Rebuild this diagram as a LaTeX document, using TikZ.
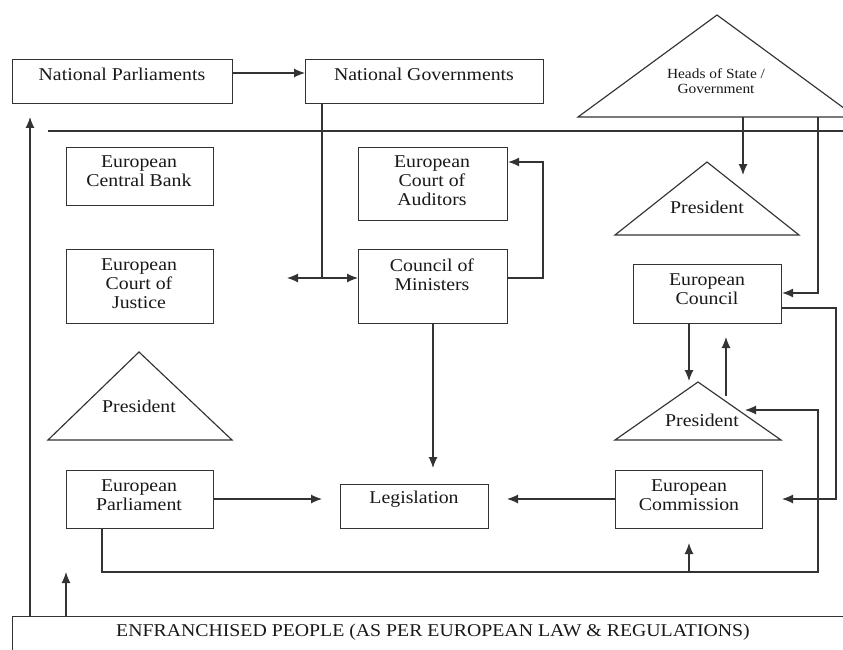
\documentclass[tikz,border=0pt]{standalone}
\usepackage{fontspec}
\setmainfont{Liberation Serif}[FakeStretch=1.1]
\usetikzlibrary{arrows.meta,calc}
\begin{document}
\begin{tikzpicture}[x=1pt,y=-1pt,
  line width=1.15pt,
  color=black!80,
  box/.style={draw=black!80, line width=1.15pt, rectangle, inner sep=0pt, anchor=north west},
  txt/.style={align=center, font=\fontsize{18}{19}\selectfont, inner sep=0pt, text=black!90},
  small/.style={align=center, font=\fontsize{14}{15}\selectfont, inner sep=0pt, text=black!90},
  arr/.style={-{Latex[length=11pt,width=9pt]}},
]
\useasboundingbox (0,0) rectangle (843,650);
\clip (0,0) rectangle (843,650);
\fill[white] (0,0) rectangle (843,650);

% boxes
\node[box, minimum width=220pt, minimum height=44pt] (np) at (12,59) {};
\node[box, minimum width=238pt, minimum height=44pt] (ng) at (305,59) {};
\node[box, minimum width=147pt, minimum height=58pt] (ecb) at (66,147) {};
\node[box, minimum width=147pt, minimum height=74pt] (ecj) at (66,249) {};
\node[box, minimum width=149pt, minimum height=73pt] (eca) at (358,147) {};
\node[box, minimum width=149pt, minimum height=74pt] (com) at (358,249) {};
\node[box, minimum width=148pt, minimum height=59pt] (ecl) at (633,264) {};
\node[box, minimum width=147pt, minimum height=58pt] (ep) at (66,470) {};
\node[box, minimum width=148pt, minimum height=44pt] (leg) at (340,484) {};
\node[box, minimum width=147pt, minimum height=58pt] (ecm) at (615,470) {};
\node[box, minimum width=860pt, minimum height=60pt] (ppl) at (12,616) {};

% texts
\node[txt] (tnp) at (122,74) {National Parliaments};
\node[txt] (tng) at (424,74) {National Governments};
\node[txt] (tecb) at (139,171) {European\\Central Bank};
\node[txt] (tecj) at (139,284) {European\\Court of\\Justice};
\node[txt] (teca) at (432,181) {European\\Court of\\Auditors};
\node[txt] (tcom) at (432,275) {Council of\\Ministers};
\node[txt] (tecl) at (707,289) {European\\Council};
\node[txt] (tep) at (139,495) {European\\Parliament};
\node[txt] (tleg) at (414,499) {Legislation};
\node[txt] (tecm) at (689,495) {European\\Commission};
\node[txt] (tppl) at (433,632) {ENFRANCHISED PEOPLE (AS PER EUROPEAN LAW \& REGULATIONS)};

% triangles
\coordinate (hA) at (717,15); \coordinate (hL) at (578,117); \coordinate (hR) at (856,117);
\draw (hL) -- (hA) -- (hR) -- cycle;
\node[small] (ths) at (716,81) {Heads of State /\\Government};

\coordinate (p1A) at (707,162); \coordinate (p1L) at (615,235); \coordinate (p1R) at (799,235);
\draw (p1L) -- (p1A) -- (p1R) -- cycle;
\node[txt] (tp1) at (707,207) {President};

\coordinate (p2A) at (698,382); \coordinate (p2L) at (615,440); \coordinate (p2R) at (781,440);
\draw (p2L) -- (p2A) -- (p2R) -- cycle;
\node[txt] (tp2) at (702,420) {President};

\coordinate (p3A) at (139,352); \coordinate (p3L) at (48,440); \coordinate (p3R) at (232,440);
\draw (p3L) -- (p3A) -- (p3R) -- cycle;
\node[txt] (tp3) at (139,406) {President};

% separator
\coordinate (s1) at (48,131); \coordinate (s2) at (843,131);
\draw (s1) -- (s2);

% connectors
\draw[arr] ($(np.north east)+(0,14)$) -- ($(ng.north west)+(0,14)$);

\coordinate (ngd) at ($(ng.south west)+(17,0)$);
\coordinate (j1) at (322,278);
\coordinate (ecjend) at (287,278);
\draw (ngd) -- (j1);
\draw[arr] (j1) -- (ecjend);
\draw[arr] (j1) -- (j1 -| com.west);

\coordinate (c1) at (543,278); \coordinate (c2) at (543,162);
\draw[arr] (j1 -| com.east) -- (c1) -- (c2) -- (c2 -| eca.east);

\coordinate (h1) at (743,117); \coordinate (h1e) at (743,175);
\draw[arr] (h1) -- (h1e);
\coordinate (h2) at (818,117); \coordinate (h2b) at (818,293);
\draw[arr] (h2) -- (h2b) -- (h2b -| ecl.east);

\coordinate (e1) at (781,308); \coordinate (e2) at (836,308); \coordinate (e3) at (836,499); \coordinate (e4) at (782,499);
\draw[arr] (e1) -- (e2) -- (e3) -- (e4);

\coordinate (d1) at (689,323); \coordinate (d2) at (689,381);
\draw[arr] (d1) -- (d2);
\coordinate (u1) at (726,396); \coordinate (u2) at (726,337);
\draw[arr] (u1) -- (u2);

\coordinate (b1) at (102,528); \coordinate (b2) at (102,572); \coordinate (b3) at (818,572); \coordinate (b4) at (818,410); \coordinate (b5) at (745,410);
\draw[arr] (b1) -- (b2) -- (b3) -- (b4) -- (b5);
\coordinate (k1) at (689,572); \coordinate (k2) at (689,543);
\draw[arr] (k1) -- (k2);

\coordinate (l1) at (322,499);
\draw[arr] (l1 -| ep.east) -- (l1);
\coordinate (m1) at (433,323); \coordinate (m2) at (433,468);
\draw[arr] (m1) -- (m2);
\coordinate (n1) at (507,499);
\draw[arr] (n1 -| ecm.west) -- (n1);

\coordinate (v1) at (30,616); \coordinate (v2) at (30,117);
\draw[arr] (v1) -- (v2);
\coordinate (w1) at (66,616); \coordinate (w2) at (66,572);
\draw[arr] (w1) -- (w2);
\end{tikzpicture}
\end{document}
